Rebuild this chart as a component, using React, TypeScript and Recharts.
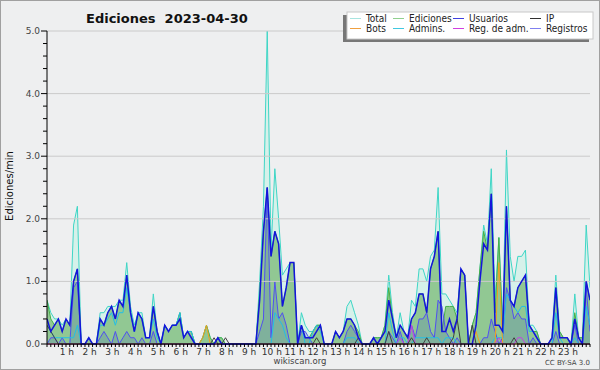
import React from 'react';
import { ComposedChart, Area, Line, XAxis, YAxis, ReferenceLine } from 'recharts';

const hourLabels = ['1 h','2 h','3 h','4 h','5 h','6 h','7 h','8 h','9 h','10 h','11 h','12 h','13 h','14 h','15 h','16 h','17 h','18 h','19 h','20 h','21 h','22 h','23 h'];
const yTickLabels = ['0.0','1.0','2.0','3.0','4.0','5.0'];
const legendNames = ['Total','Ediciones','Usuarios','IP','Bots','Admins.','Reg. de adm.','Registros'];

// values every 10 minutes (edits/min), 144 points
const total = [
  0.7,0.5,0.4,0.4,0.3,0.4, 0.3,1.9,2.2,0,0,0.1,
  0,0,0.5,0.5,0.6,0.6, 0.6,0.7,0.7,1.3,0.6,0.3,
  0.5,0.5,0.1,0.1,0.8,0.2, 0,0.3,0.2,0.3,0.3,0.5,
  0.1,0.2,0.2,0,0,0.1, 0.3,0.1,0,0.1,0.1,0,
  0,0,0,0,0,0, 0,0,1.0,2.2,5.0,1.5,
  2.8,2.0,1.1,1.2,1.3,1.3, 0,0.5,0.3,0.2,0.2,0.3,
  0.3,0,0,0,0.2,0.1, 0.2,0.6,0.7,0.5,0.3,0,
  0,0,0.1,0.1,0.1,0.3, 1.1,0.5,0.1,0.5,0.2,0.1,
  0.7,0.6,1.2,1.2,1.0,1.4, 1.5,2.5,0.8,0.8,0.7,0.6,
  0.5,1.2,1.1,0,0.3,0.5, 1.2,1.9,1.6,2.8,0.7,1.7,
  0.3,3.1,1.4,1.0,1.4,1.4, 1.5,0.3,0.3,0.2,0,0,
  0,0.1,1.1,0.2,0.1,0.1, 0,0.8,0.1,0.1,1.9,0.9,
];
const ediciones = [
  0.7,0.4,0.3,0.4,0.2,0.4, 0.3,1.0,1.2,0,0,0.1,
  0,0,0.4,0.3,0.5,0.6, 0.4,0.7,0.6,1.1,0.5,0.2,
  0.5,0.4,0.1,0.1,0.6,0.2, 0,0.3,0.2,0.3,0.3,0.5,
  0.1,0.2,0.2,0,0,0.1, 0.3,0.1,0,0.1,0.1,0,
  0,0,0,0,0,0, 0,0,0.8,1.8,2.5,1.4,
  1.8,1.6,0.6,0.9,1.3,1.3, 0,0.3,0.1,0.1,0.2,0.3,
  0.3,0,0,0,0.2,0.1, 0.2,0.4,0.4,0.3,0.2,0,
  0,0,0.1,0.1,0.1,0.3, 0.9,0.4,0.1,0.3,0.2,0.1,
  0.4,0.5,0.8,0.8,0.5,1.2, 1.4,1.8,0.2,0.6,0.6,0.6,
  0.4,1.2,1.1,0,0.3,0.5, 1.2,1.8,1.5,2.4,0.5,1.7,
  0.2,2.2,0.7,0.6,0.9,1.0, 1.1,0.3,0.2,0.2,0,0,
  0,0.1,0.9,0.2,0.1,0.1, 0,0.5,0.1,0.1,1.0,0.7,
];
const usuarios = [
  0.4,0.2,0.3,0.4,0.2,0.4, 0.3,1.0,1.2,0,0,0.1,
  0,0,0.4,0.3,0.5,0.6, 0.4,0.7,0.6,1.1,0.5,0.2,
  0.5,0.4,0.1,0.1,0.6,0.2, 0,0.3,0.2,0.3,0.3,0.4,
  0.1,0.2,0.1,0,0,0, 0,0,0,0.1,0,0,
  0,0,0,0,0,0, 0,0,0.7,1.8,2.5,1.4,
  1.8,1.6,0.6,0.9,1.3,1.3, 0,0.3,0.1,0.1,0.1,0.2,
  0.3,0,0,0,0.2,0.1, 0.2,0.4,0.4,0.3,0.1,0,
  0,0,0.1,0,0.1,0.2, 0.7,0.4,0.1,0.3,0.2,0.1,
  0.4,0.5,0.8,0.8,0.5,1.2, 1.4,1.8,0.2,0.2,0.4,0.2,
  0.4,1.2,1.1,0,0,0.3, 1.0,1.6,1.5,2.4,0.3,0.3,
  0.2,2.2,0.7,0.6,0.9,1.0, 1.1,0.3,0.2,0.1,0,0,
  0,0.1,0.9,0.1,0.1,0.1, 0,0.4,0.1,0,1.0,0.7,
];
const registros = [
  0,0.1,0.1,0,0.1,0, 0,0.9,1.0,0,0,0,
  0,0,0.1,0.2,0.1,0, 0.2,0,0.1,0.2,0.1,0.1,
  0,0.1,0,0,0.2,0, 0,0,0,0,0,0,
  0,0,0,0,0,0, 0,0,0,0,0,0,
  0,0,0,0,0,0, 0,0,0.2,0.4,2.5,0.1,
  1.0,0.4,0.5,0.3,0,0, 0,0.2,0.2,0.1,0,0,
  0,0,0,0,0,0, 0,0.2,0.3,0.2,0.1,0,
  0,0,0,0,0,0, 0.2,0.1,0,0.2,0,0,
  0.3,0.1,0.4,0.4,0.5,0.2, 0.1,0.7,0.6,0.2,0.1,0,
  0.1,0,0,0,0,0, 0,0.1,0.1,0.4,0.2,0,
  0.1,0.9,0.7,0.4,0.5,0.4, 0.4,0,0.1,0,0,0,
  0,0,0.2,0,0,0, 0,0.3,0,0,0.9,0.2,
];
const admins = [
  0.3,0.2,0.1,0.1,0.1,0.1, 0.1,0.1,0.3,0,0,0,
  0,0,0.3,0.3,0.4,0.5, 0.3,0.5,0.5,0.9,0.5,0.2,
  0.5,0.4,0.1,0.1,0.4,0.1, 0,0.3,0.2,0.3,0.3,0.5,
  0.1,0.2,0.2,0,0,0, 0,0,0,0,0,0,
  0,0,0,0,0,0, 0,0,0,0,0,0,
  0.5,0.4,0.3,0.1,0,0, 0,0.3,0,0,0.2,0.3,
  0.2,0,0,0,0,0, 0,0.1,0.1,0.1,0,0,
  0,0,0,0,0,0, 0.5,0.2,0,0.1,0.1,0,
  0,0.1,0.1,0.1,0.1,0.1, 0.1,0.1,0,0.1,0.1,0.1,
  0,0,0,0,0,0, 0,0,0,0,0.1,0.1,
  0.1,0.8,0.7,0.6,0.5,0.6, 0.6,0.2,0.2,0.1,0,0,
  0,0,0.5,0.1,0,0, 0,0.1,0,0,0.6,0.3,
];
const ip = [
  0.3,0.2,0.1,0,0,0, 0,0,0,0,0,0,
  0,0,0,0,0,0, 0,0,0,0,0,0,
  0,0,0,0,0,0, 0,0,0,0,0,0,
  0,0,0,0,0,0, 0,0,0.1,0,0,0.1,
  0,0,0,0,0,0, 0,0,0,0,0,0,
  0,0,0,0,0,0, 0,0,0,0,0,0.1,
  0,0,0,0,0,0, 0,0,0,0,0.1,0,
  0,0,0,0,0,0, 0.2,0,0,0,0,0,
  0.1,0,0,0,0.1,0, 0,0,0,0,0,0.1,
  0.4,0,0,0,0.3,0, 0,0,0,0,0,0,
  0,0,0,0.1,0,0, 0,0,0,0,0,0,
  0,0,0,0,0,0, 0,0,0,0,0,0,
];
const bots = [
  0,0,0,0,0,0, 0,0,0,0,0,0,
  0,0,0,0,0,0, 0,0,0,0,0,0,
  0,0,0,0,0,0, 0,0,0,0,0,0,
  0,0,0,0,0,0.1, 0.3,0,0,0,0,0,
  0,0,0,0,0,0, 0,0,0,0,0,0,
  0,0,0,0,0,0, 0,0,0,0,0,0,
  0,0,0,0,0,0, 0,0,0,0,0,0,
  0,0,0,0,0,0, 0,0,0,0,0,0,
  0,0,0,0,0,0, 0,0,0,0,0,0,
  0,0,0,0,0,0.2, 0,0,0,0,0,1.3,
  0,0,0,0,0,0, 0,0,0,0,0,0,
  0,0,0,0,0,0, 0,0,0,0,0,0,
];
const regAdm = [
  0,0,0,0,0,0, 0,0,0,0,0,0,
  0,0,0,0,0,0, 0,0,0,0,0,0,
  0,0,0,0,0,0, 0,0,0,0,0,0,
  0,0,0,0,0,0, 0,0,0,0,0,0,
  0,0,0,0,0,0, 0,0,0,0,0,0,
  0,0,0,0,0,0, 0,0,0,0,0,0,
  0,0,0,0,0,0, 0,0,0,0,0,0,
  0,0,0,0,0,0, 0,0,0,0.1,0,0,
  0.3,0,0,0,0,0, 0,0,0,0,0,0,
  0,0,0,0,0,0, 0,0,0,0,0,0.1,
  0,0,0,0,0.1,0.1, 0,0,0,0,0,0,
  0,0,0,0,0,0, 0,0,0,0,0,0,
];

const data = total.map((t, i) => ({
  i,
  total: t,
  ediciones: ediciones[i],
  usuarios: usuarios[i],
  registros: registros[i],
  admins: admins[i],
  ip: ip[i],
  bots: bots[i],
  regAdm: regAdm[i],
}));

const xTicks = data.map((d) => d.i);
const yTicks = Array.from({ length: 26 }, (_, k) => k / 5);

const FONT = 'DejaVu Sans, sans-serif';
const LEGEND_FONT = '"DejaVu Sans Condensed", "Liberation Sans Narrow", "Liberation Sans", sans-serif';

const XTick = (props: any) => {
  const { x, y, payload } = props;
  const v = payload.value as number;
  const isHour = v % 6 === 0 && v > 0;
  return (
    <g>
      <line x1={x} x2={x} y1={y} y2={y + 3} stroke="#000" strokeWidth={1} />
      {isHour && (
        <text x={x - 3} y={y + 11} textAnchor="middle" fontSize={9} fill="#333" fontFamily={FONT}>
          {hourLabels[v / 6 - 1]}
        </text>
      )}
    </g>
  );
};

const YTick = (props: any) => {
  const { x, y, payload } = props;
  const v = payload.value as number;
  const major = Math.abs(v - Math.round(v)) < 1e-6;
  return (
    <g>
      <line x1={x - (major ? 6 : 4)} x2={x} y1={y} y2={y} stroke="#000" strokeWidth={1} />
      {major && (
        <text x={x - 7} y={y + 3} textAnchor="end" fontSize={9} fill="#444" fontFamily={FONT}>
          {yTickLabels[Math.round(v)]}
        </text>
      )}
    </g>
  );
};

const legendColors = ['#a8e4e0', '#90d090', '#4040e0', '#303030', '#f0a040', '#40c8e0', '#d040e0', '#8080f0'];
const legendCols = [3, 46, 106, 183];

export default function App() {
  return (
    <div style={{ position: 'fixed', left: 0, top: 0, width: 600, height: 370, background: '#eeeff0', overflow: 'hidden' }}>
      <ComposedChart width={600} height={370} data={data} margin={{ top: 31, right: 10, bottom: 6, left: 7 }}>
        <XAxis
          type="number"
          dataKey="i"
          domain={[0, 143]}
          ticks={xTicks}
          interval={0}
          tick={<XTick />}
          tickLine={false}
          tickSize={0}
          tickMargin={0}
          height={20}
          axisLine={{ stroke: '#000' }}
          allowDataOverflow
        />
        <YAxis
          type="number"
          domain={[0, 5]}
          ticks={yTicks}
          interval={0}
          tick={<YTick />}
          tickLine={false}
          tickSize={0}
          tickMargin={0}
          width={40}
          axisLine={{ stroke: '#000' }}
        />
        {[1, 2, 3, 4, 5].map((v) => (
          <ReferenceLine key={v} y={v} stroke="#cacaca" strokeWidth={1} />
        ))}
        <Area type="linear" dataKey="total" stroke="#3fd6c6" strokeWidth={1} fill="#d6f1ea" fillOpacity={1} isAnimationActive={false} dot={false} activeDot={false} />
        <Area type="linear" dataKey="ediciones" stroke="#46b046" strokeWidth={1} fill="#91c893" fillOpacity={1} isAnimationActive={false} dot={false} activeDot={false} />
        <Area type="linear" dataKey="registros" stroke="#5050f0" strokeWidth={1} fill="#4060c0" fillOpacity={0.22} isAnimationActive={false} dot={false} activeDot={false} />
        <Line type="linear" dataKey="admins" stroke="#22bfe6" strokeWidth={1} dot={false} activeDot={false} isAnimationActive={false} />
        <Line type="linear" dataKey="bots" stroke="#f0a020" strokeWidth={1} dot={false} activeDot={false} isAnimationActive={false} />
        <Line type="linear" dataKey="regAdm" stroke="#c840e0" strokeWidth={1} dot={false} activeDot={false} isAnimationActive={false} />
        <Line type="linear" dataKey="ip" stroke="#404040" strokeWidth={1} dot={false} activeDot={false} isAnimationActive={false} />
        <Line type="linear" dataKey="usuarios" stroke="#1414dc" strokeWidth={1.5} dot={false} activeDot={false} isAnimationActive={false} />
      </ComposedChart>
      <svg width={600} height={370} style={{ position: 'absolute', left: 0, top: 0, pointerEvents: 'none' }}>
        <rect x={0.5} y={0.5} width={599} height={369} fill="none" stroke="#a0a0a0" />
        <text x={86} y={23} fontSize={13} fontWeight="bold" fill="#111" fontFamily={FONT} style={{ whiteSpace: 'pre' }}>
          {'Ediciones  2023-04-30'}
        </text>
        <text transform="translate(13,186) rotate(-90)" textAnchor="middle" fontSize={10} fill="#111" fontFamily={FONT}>
          Ediciones/min
        </text>
        <rect x={343} y={15} width={246} height={27} fill="#777" />
        <rect x={347} y={12} width={246} height={27} fill="#fff" stroke="#c8c8c8" />
        {legendNames.map((name, k) => {
          const col = k % 4;
          const row = Math.floor(k / 4);
          const lx = 347 + legendCols[col];
          const ly = 12 + (row === 0 ? 6.5 : 16.5);
          return (
            <g key={name}>
              <line x1={lx} x2={lx + 11} y1={ly} y2={ly} stroke={legendColors[k]} strokeWidth={1} />
              <text x={lx + 16} y={ly + 3.5} fontSize={10} fill="#222" fontFamily={LEGEND_FONT}>
                {name}
              </text>
            </g>
          );
        })}
        <text x={300} y={364} textAnchor="middle" fontSize={8.5} fill="#444" fontFamily={FONT}>
          wikiscan.org
        </text>
        <text x={590} y={365} textAnchor="end" fontSize={7} fill="#444" fontFamily={FONT}>
          CC BY-SA 3.0
        </text>
      </svg>
    </div>
  );
}
